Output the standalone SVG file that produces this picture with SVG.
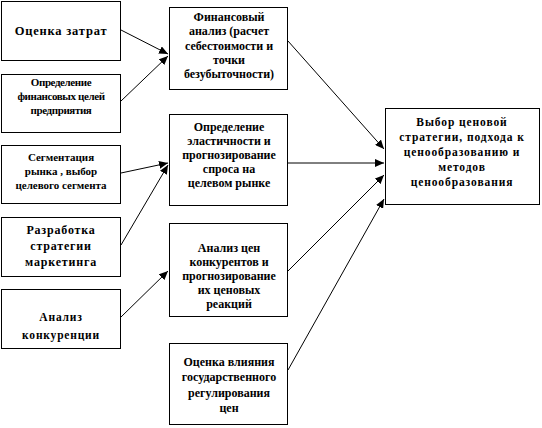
<svg xmlns="http://www.w3.org/2000/svg" width="542" height="428" viewBox="0 0 542 428">
<defs>
<marker id="ah" markerWidth="9" markerHeight="8" refX="9" refY="4" orient="auto" markerUnits="userSpaceOnUse">
<path d="M0,0 L9,4 L0,8 z" fill="#000"/>
</marker>
<style>
rect{fill:#fff;stroke:#000;stroke-width:1}
text{font-family:"Liberation Serif","Times New Roman",serif;font-weight:bold;fill:#000;text-anchor:middle;font-size:11px}
.m{font-size:12px}
.c line{stroke:#000;stroke-width:1;marker-end:url(#ah)}
</style>
</defs>
<rect x="0" y="0" width="542" height="428" style="stroke:none"/>
<g id="n1"><rect x="1.5" y="1.5" width="119" height="59"/><text x="61" y="35" style="font-size:12.5px;letter-spacing:0.8px">Оценка затрат</text></g>
<g id="n2"><rect x="1.5" y="74.5" width="119" height="58"/><text style="font-size:11px;letter-spacing:-0.4px"><tspan x="61" y="86">Определение</tspan><tspan x="61" y="100">финансовых целей</tspan><tspan x="61" y="114">предприятия</tspan></text></g>
<g id="n3"><rect x="1.5" y="145.5" width="119" height="58"/><text><tspan x="61" y="161">Сегментация</tspan><tspan x="61" y="175">рынка , выбор</tspan><tspan x="61" y="189">целевого сегмента</tspan></text></g>
<g id="n4"><rect x="1.5" y="217.5" width="119" height="59"/><text style="font-size:12px;letter-spacing:0.8px"><tspan x="61" y="234">Разработка</tspan><tspan x="61" y="250">стратегии</tspan><tspan x="61" y="266">маркетинга</tspan></text></g>
<g id="n5"><rect x="1.5" y="289.5" width="119" height="59"/><text style="font-size:11.5px;letter-spacing:0.8px"><tspan x="61" y="321">Анализ</tspan><tspan x="61" y="339">конкуренции</tspan></text></g>
<g id="m1"><rect x="169.5" y="7.5" width="118" height="82"/><text class="m"><tspan x="229" y="21">Финансовый</tspan><tspan x="229" y="35">анализ (расчет</tspan><tspan x="229" y="50">себестоимости и</tspan><tspan x="229" y="64">точки</tspan><tspan x="229" y="78">безубыточности)</tspan></text></g>
<g id="m2"><rect x="169.5" y="114.5" width="118" height="91"/><text class="m"><tspan x="229" y="131">Определение</tspan><tspan x="229" y="145">эластичности и</tspan><tspan x="229" y="159">прогнозирование</tspan><tspan x="229" y="173">спроса  на</tspan><tspan x="229" y="187">целевом рынке</tspan></text></g>
<g id="m3"><rect x="169.5" y="223.5" width="118" height="93"/><text class="m"><tspan x="229" y="252">Анализ цен</tspan><tspan x="229" y="266">конкурентов и</tspan><tspan x="229" y="280">прогнозирование</tspan><tspan x="229" y="294">их  ценовых</tspan><tspan x="229" y="308">реакций</tspan></text></g>
<g id="m4"><rect x="169.5" y="343.5" width="118" height="81"/><text class="m"><tspan x="229" y="366">Оценка влияния</tspan><tspan x="229" y="381">государственного</tspan><tspan x="229" y="397">регулирования</tspan><tspan x="229" y="412">цен</tspan></text></g>
<g id="r1"><rect x="385.5" y="108.5" width="154" height="96"/><text style="font-size:11.5px;letter-spacing:0.9px"><tspan x="462" y="126">Выбор  ценовой</tspan><tspan x="462" y="141">стратегии,  подхода к</tspan><tspan x="462" y="156">ценообразованию и</tspan><tspan x="462" y="171">методов</tspan><tspan x="462" y="186">ценообразования</tspan></text></g>
<g class="c" id="connectors">
<line x1="121" y1="30" x2="168" y2="54"/>
<line x1="121" y1="101" x2="168" y2="56"/>
<line x1="121" y1="173" x2="168" y2="163"/>
<line x1="121" y1="245" x2="168" y2="165"/>
<line x1="121" y1="317" x2="168" y2="271"/>
<line x1="288" y1="41" x2="384" y2="149"/>
<line x1="288" y1="163" x2="384" y2="163"/>
<line x1="288" y1="271" x2="384" y2="175"/>
<line x1="288" y1="370" x2="384" y2="199"/>
</g>
</svg>
